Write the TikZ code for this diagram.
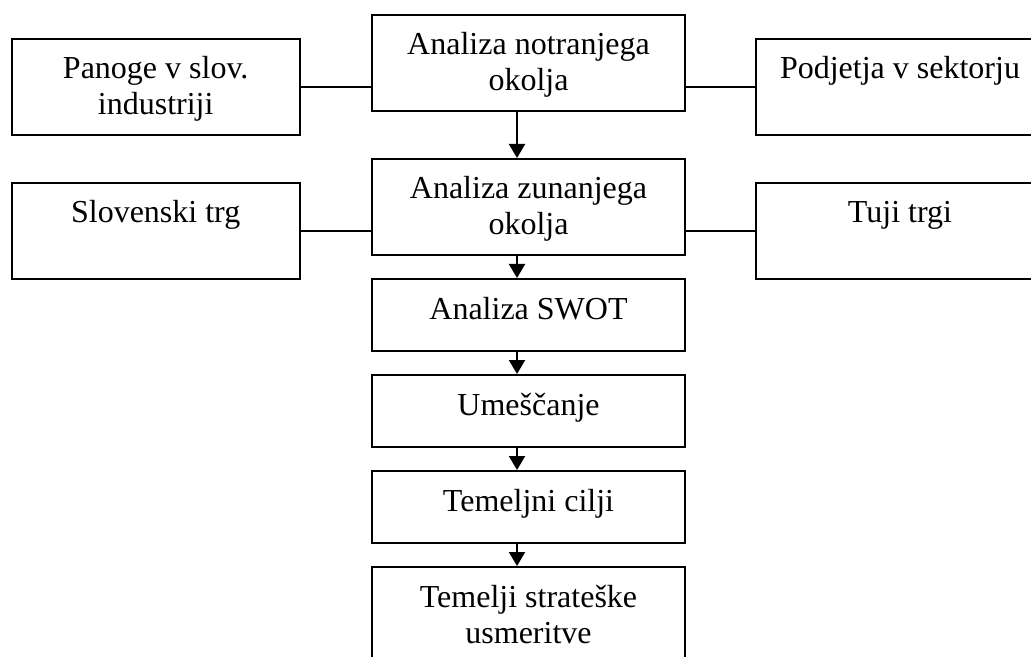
\documentclass[tikz,border=0pt]{standalone}
\usepackage{fontspec}
\setmainfont{Liberation Serif}
\usetikzlibrary{arrows.meta,positioning,calc}

\begin{document}
\begin{tikzpicture}[x=0.5pt,y=-0.5pt,
  tbox/.style 2 args={draw,line width=1pt,inner sep=0pt,anchor=north west,
    font=\fontsize{16}{18}\selectfont,
    execute at begin node={\begin{minipage}[t][#2][t]{#1}\centering\rule{0pt}{20pt}},
    execute at end node={\end{minipage}}},
  sidebox/.style={tbox={144pt}{48pt}},
  midbox/.style={tbox={156.5pt}{48pt}},
  lowbox/.style={tbox={156.5pt}{36pt}},
  flowarrow/.style={-{Triangle[width=8pt,length=7pt]},line width=1pt},
  linkline/.style={line width=1pt}
]
  \useasboundingbox (0,0) rectangle (1031,657);
  \clip (0,0) rectangle (1031,657);
  % Row 1
  \node[sidebox] (panoge) at (10.7,37.7) {Panoge v slov.\\industriji};
  \node[midbox] (notranje) at (371,14) {Analiza notranjega\\okolja};
  \node[sidebox] (podjetja) at (755,37.7) {Podjetja v sektorju};
  % Row 2
  \node[sidebox] (slotrg) at (10.7,182) {Slovenski trg};
  \node[midbox] (zunanje) at (371,158) {Analiza zunanjega\\okolja};
  \node[sidebox] (tujitrg) at (755,182) {Tuji trgi};
  % Column
  \node[lowbox] (swot) at (371,278) {Analiza SWOT};
  \node[lowbox] (umescanje) at (371,374) {Ume\v{s}\v{c}anje};
  \node[lowbox] (cilji) at (371,470) {Temeljni cilji};
  \node[midbox] (usmeritve) at (371,566) {Temelji strate\v{s}ke\\usmeritve};
  % Side links
  \draw[linkline] (panoge.east) -- (panoge.east -| notranje.west);
  \draw[linkline] (notranje.east |- podjetja.west) -- (podjetja.west);
  \draw[linkline] (slotrg.east) -- (slotrg.east -| zunanje.west);
  \draw[linkline] (zunanje.east |- tujitrg.west) -- (tujitrg.west);
  % Arrows down
  \draw[flowarrow] ([xshift=-5.75pt]notranje.south) -- ([xshift=-5.75pt]zunanje.north);
  \draw[flowarrow] ([xshift=-5.75pt]zunanje.south) -- ([xshift=-5.75pt]swot.north);
  \draw[flowarrow] ([xshift=-5.75pt]swot.south) -- ([xshift=-5.75pt]umescanje.north);
  \draw[flowarrow] ([xshift=-5.75pt]umescanje.south) -- ([xshift=-5.75pt]cilji.north);
  \draw[flowarrow] ([xshift=-5.75pt]cilji.south) -- ([xshift=-5.75pt]usmeritve.north);
\end{tikzpicture}
\end{document}
